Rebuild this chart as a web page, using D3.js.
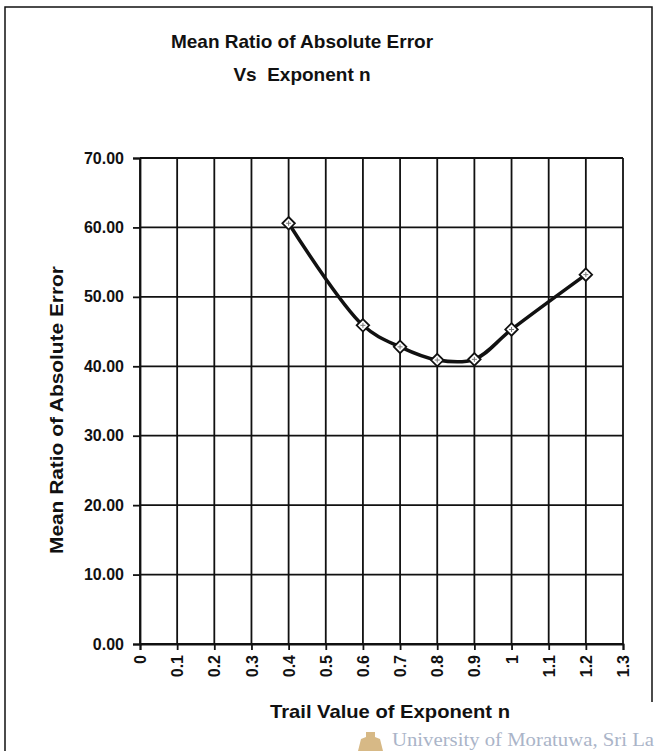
<!DOCTYPE html>
<html>
<head>
<meta charset="utf-8">
<script src="https://cdn.jsdelivr.net/npm/d3@7"></script>
<style>
  body { margin: 0; background: #fff; }
  text { font-family: Arial, "Liberation Sans", sans-serif; font-weight: bold; }
</style>
</head>
<body>
<div id="chart"></div>
<script>
// Data
const exponents = [0.4, 0.6, 0.7, 0.8, 0.9, 1.0, 1.2];
const meanRatios = [60.6, 45.9, 42.8, 40.9, 41.0, 45.3, 53.2];
const xTicks = [0, 0.1, 0.2, 0.3, 0.4, 0.5, 0.6, 0.7, 0.8, 0.9, 1, 1.1, 1.2, 1.3];
const yTicks = [0, 10, 20, 30, 40, 50, 60, 70];
const titleLines = ["Mean Ratio of Absolute Error", "Vs  Exponent n"];

const data = exponents.map((n, i) => ({ n: n, value: meanRatios[i] }));

const svg = d3.select("#chart")
  .append("svg")
  .attr("width", 659)
  .attr("height", 751);

const margin = { top: 158, left: 140, right: 36, bottom: 107 };
const width = 659 - margin.left - margin.right;
const height = 751 - margin.top - margin.bottom;

// outer frame of the chart
svg.append("path")
  .attr("d", "M5,751 L5,7 L652,7 L652,702")
  .attr("fill", "none")
  .attr("stroke", "#111")
  .attr("stroke-width", 1.5);

// title
svg.selectAll(".title")
  .data(titleLines)
  .join("text")
  .attr("class", "title")
  .attr("x", 302)
  .attr("y", (d, i) => 48 + i * 33)
  .attr("text-anchor", "middle")
  .attr("font-size", 19)
  .attr("fill", "#111")
  .style("white-space", "pre")
  .text(d => d);

const chart = svg.append("g").attr("transform", `translate(${margin.left},${margin.top})`);

const xScale = d3.scaleLinear().domain([0, 1.3]).range([0, width]);
const yScale = d3.scaleLinear().domain([0, 70]).range([height, 0]);

// gridlines
chart.append("g")
  .selectAll("line")
  .data(xTicks)
  .join("line")
  .attr("x1", d => xScale(d)).attr("x2", d => xScale(d))
  .attr("y1", 0).attr("y2", height)
  .attr("stroke", "#111").attr("stroke-width", 1.8);

chart.append("g")
  .selectAll("line")
  .data(yTicks)
  .join("line")
  .attr("x1", 0).attr("x2", width)
  .attr("y1", d => yScale(d)).attr("y2", d => yScale(d))
  .attr("stroke", "#111").attr("stroke-width", 1.8);

// axes
const xAxis = chart.append("g")
  .attr("transform", `translate(0,${height})`)
  .call(d3.axisBottom(xScale).tickValues(xTicks).tickSize(6).tickFormat(d3.format("")));
xAxis.selectAll("text")
  .attr("transform", "rotate(-90)")
  .attr("x", -11)
  .attr("y", 0)
  .attr("dy", "0.35em")
  .attr("text-anchor", "end")
  .attr("font-size", 16)
  .attr("fill", "#111");

const yAxis = chart.append("g")
  .call(d3.axisLeft(yScale).tickValues(yTicks).tickSize(7).tickFormat(d3.format(".2f")));
yAxis.selectAll("text")
  .attr("x", -16)
  .attr("font-size", 16)
  .attr("fill", "#111");

[xAxis, yAxis].forEach(ax => {
  ax.select(".domain").attr("stroke", "#111").attr("stroke-width", 1.8);
  ax.selectAll(".tick line").attr("stroke", "#111").attr("stroke-width", 1.8);
});

// axis titles
svg.append("text")
  .attr("x", 390)
  .attr("y", 718)
  .attr("text-anchor", "middle")
  .attr("font-size", 19)
  .attr("textLength", 240)
  .attr("lengthAdjust", "spacingAndGlyphs")
  .attr("fill", "#111")
  .text("Trail Value of Exponent n");

svg.append("text")
  .attr("transform", "translate(63,410) rotate(-90)")
  .attr("text-anchor", "middle")
  .attr("font-size", 18)
  .attr("textLength", 288)
  .attr("lengthAdjust", "spacingAndGlyphs")
  .attr("fill", "#111")
  .text("Mean Ratio of Absolute Error");

// smoothed line
const line = d3.line()
  .x(d => xScale(d.n))
  .y(d => yScale(d.value))
  .curve(d3.curveCatmullRom.alpha(0.5));

chart.append("path")
  .datum(data)
  .attr("d", line)
  .attr("fill", "none")
  .attr("stroke", "#111")
  .attr("stroke-width", 3.5)
  .attr("stroke-linejoin", "round");

// diamond markers
const markers = chart.selectAll(".marker")
  .data(data)
  .join("g")
  .attr("class", "marker")
  .attr("transform", d => `translate(${xScale(d.n)},${yScale(d.value)})`);
markers.append("path")
  .attr("d", d3.symbol(d3.symbolDiamond2, 100))
  .attr("fill", "#fff")
  .attr("stroke", "#111")
  .attr("stroke-width", 1.8);
markers.append("path")
  .attr("d", "M-2.5,0 L2.5,0 M0,-2.5 L0,2.5")
  .attr("stroke", "#777")
  .attr("stroke-width", 1);

// scan watermark
svg.append("path")
  .attr("d", "M358,751 L361,739 L366,737 L366,732 L375,732 L375,737 L380,739 L383,751 Z")
  .attr("fill", "#c9a15e")
  .attr("opacity", 0.75);
svg.append("text")
  .attr("x", 392)
  .attr("y", 746)
  .attr("font-size", 19)
  .attr("textLength", 262)
  .attr("lengthAdjust", "spacingAndGlyphs")
  .attr("fill", "#aab4c8")
  .style("font-family", "'Liberation Serif', serif")
  .style("font-weight", "normal")
  .text("University of Moratuwa, Sri La");
</script>
</body>
</html>
